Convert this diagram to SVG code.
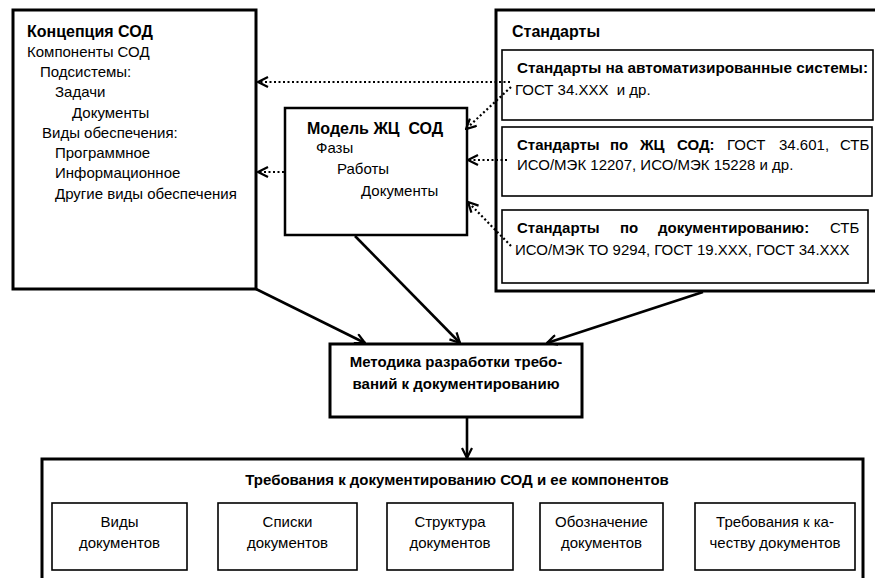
<svg xmlns="http://www.w3.org/2000/svg" width="875" height="578" viewBox="0 0 875 578">
<style>
  text { font-family: "Liberation Sans", Arial, sans-serif; font-size: 15px; fill: #000; }
  .b { font-weight: bold; }
  .t16 { font-size: 16px; font-weight: bold; }
  .c { text-anchor: middle; }
  .box { fill: #fff; stroke: #000; stroke-width: 3; }
  .mid { fill: #fff; stroke: #000; stroke-width: 2.5; }
  .sub { fill: #fff; stroke: #000; stroke-width: 1.6; }
  .con { fill: none; stroke: #000; stroke-width: 2.6; marker-end: url(#arr); }
  .dot { fill: none; stroke: #000; stroke-width: 2.2; stroke-dasharray: 2 2.5; marker-end: url(#arr); }
</style>
<defs>
  <marker id="arr" viewBox="0 0 12 12" refX="11" refY="6" markerWidth="12" markerHeight="12" markerUnits="userSpaceOnUse" orient="auto">
    <path d="M1,1 L11,6 L1,11" fill="none" stroke="#000" stroke-width="2.2" stroke-dasharray="none"/>
  </marker>
</defs>
<rect width="875" height="578" fill="#fff"/>

<g id="concept">
  <rect class="box" x="13" y="10" width="243" height="279"/>
  <text class="t16" x="27" y="37">Концепция СОД</text>
  <text x="27" y="57">Компоненты СОД</text>
  <text x="40" y="77">Подсистемы:</text>
  <text x="55" y="97">Задачи</text>
  <text x="72" y="118">Документы</text>
  <text x="42" y="138">Виды обеспечения:</text>
  <text x="55" y="158">Программное</text>
  <text x="55" y="178">Информационное</text>
  <text x="55" y="199">Другие виды обеспечения</text>
</g>

<g id="model">
  <rect class="mid" x="285" y="108" width="182" height="127"/>
  <text class="t16" x="307" y="134" xml:space="preserve">Модель ЖЦ  СОД</text>
  <text x="316" y="153">Фазы</text>
  <text x="337" y="174">Работы</text>
  <text x="361" y="196">Документы</text>
</g>

<g id="standards">
  <rect class="box" x="496" y="10" width="382" height="281"/>
  <text class="t16" x="512" y="37">Стандарты</text>
</g>

<g id="std-as">
  <rect class="sub" x="502" y="50" width="371" height="70"/>
  <text class="b" x="517" y="73" textLength="351" lengthAdjust="spacingAndGlyphs">Стандарты на автоматизированные системы:</text>
  <text x="515" y="95" xml:space="preserve">ГОСТ 34.XXX  и др.</text>
</g>

<g id="std-lc">
  <rect class="sub" x="502" y="127" width="370" height="69"/>
  <text y="150"><tspan class="b" x="517">Стандарты</tspan><tspan class="b" x="610">по</tspan><tspan class="b" x="640">ЖЦ</tspan><tspan class="b" x="677">СОД:</tspan><tspan x="727">ГОСТ</tspan><tspan x="779">34.601,</tspan><tspan x="840">СТБ</tspan></text>
  <text x="517" y="170">ИСО/МЭК 12207, ИСО/МЭК 15228 и др.</text>
</g>

<g id="std-doc">
  <rect class="sub" x="502" y="210" width="366" height="73"/>
  <text y="233"><tspan class="b" x="517">Стандарты</tspan><tspan class="b" x="620">по</tspan><tspan class="b" x="658">документированию:</tspan><tspan x="830">СТБ</tspan></text>
  <text x="515" y="255">ИСО/МЭК ТО 9294, ГОСТ 19.XXX, ГОСТ 34.XXX</text>
</g>

<g id="method">
  <rect class="box" x="330" y="344" width="252" height="73"/>
  <text class="b c" x="456" y="367">Методика разработки требо-</text>
  <text class="b c" x="456" y="389">ваний к документированию</text>
</g>

<g id="requirements">
  <rect class="box" x="42" y="459" width="821" height="135"/>
  <text class="b c" x="457" y="485">Требования к документированию СОД и ее компонентов</text>
</g>

<g id="req-types">
  <rect class="sub" x="52" y="503" width="135" height="67"/>
  <text class="c" x="119.5" y="527">Виды</text>
  <text class="c" x="119.5" y="548">документов</text>
</g>
<g id="req-lists">
  <rect class="sub" x="218" y="503" width="139" height="67"/>
  <text class="c" x="287.5" y="527">Списки</text>
  <text class="c" x="287.5" y="548">документов</text>
</g>
<g id="req-structure">
  <rect class="sub" x="387" y="503" width="126" height="67"/>
  <text class="c" x="450" y="527">Структура</text>
  <text class="c" x="450" y="548">документов</text>
</g>
<g id="req-naming">
  <rect class="sub" x="540" y="503" width="123" height="67"/>
  <text class="c" x="601.5" y="527">Обозначение</text>
  <text class="c" x="601.5" y="548">документов</text>
</g>
<g id="req-quality">
  <rect class="sub" x="695" y="503" width="160" height="67"/>
  <text class="c" x="775" y="527">Требования к ка-</text>
  <text class="c" x="775" y="548">честву документов</text>
</g>

<g id="connectors">
  <line class="con" x1="256" y1="289" x2="365" y2="343"/>
  <line class="con" x1="355" y1="236" x2="460" y2="343"/>
  <line class="con" x1="703" y1="292" x2="547" y2="343"/>
  <line class="con" x1="467" y1="418" x2="467" y2="458"/>
  <line class="dot" x1="510" y1="82" x2="258" y2="82"/>
  <line class="dot" x1="511" y1="87" x2="466" y2="129"/>
  <line class="dot" x1="507" y1="160" x2="468" y2="160"/>
  <line class="dot" x1="511" y1="246" x2="468" y2="202"/>
  <line class="dot" x1="284" y1="172" x2="258" y2="172"/>
</g>
</svg>
